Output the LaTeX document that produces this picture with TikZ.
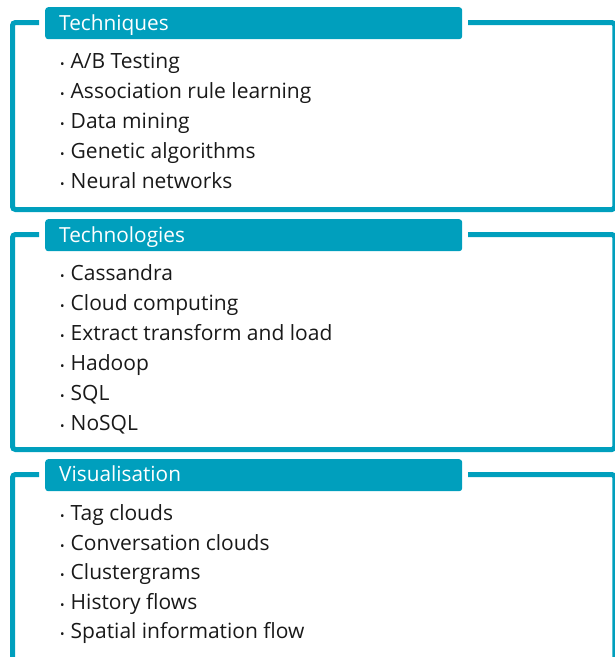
\documentclass[tikz,border=0pt]{standalone}
\usepackage{fontspec}
\setmainfont{Open Sans}
\definecolor{ecblue}{RGB}{0,159,189}
\newcommand\bul{\makebox[10.5pt][l]{\fontsize{12}{12}\selectfont •}}
\tikzset{
  frame/.style={draw=ecblue, line width=5pt, rounded corners=3pt},
  header/.style={fill=ecblue, rounded corners=3pt, minimum width=417pt, minimum height=32pt, anchor=north west, inner sep=0pt},
  htext/.style={text=white, font=\fontsize{20.8}{24}\selectfont, anchor=base west, inner sep=0pt},
  item/.style={font=\fontsize{21}{24}\selectfont, anchor=base west, inner sep=0pt, text=black!90},
}
\begin{document}
\begin{tikzpicture}[x=1pt,y=-1pt]
\useasboundingbox (0,0) rectangle (615,657);
% block 1
\draw[frame] (39,22.5) -- (12.5,22.5) -- (12.5,209.5) -- (614.8,209.5) -- (614.8,22.5) -- (468,22.5);
\node[header] (h1) at (45,7) {};
\node[htext] (t1) at (59,30) {Techniques};
\node[item] (a1) at (60,68) {\bul A/B Testing};
\node[item] (a2) at (60,98) {\bul Association rule learning};
\node[item] (a3) at (60,128) {\bul Data mining};
\node[item] (a4) at (60,158) {\bul Genetic algorithms};
\node[item] (a5) at (60,188) {\bul Neural networks};
% block 2
\draw[frame] (39,234.5) -- (12.5,234.5) -- (12.5,449.5) -- (614.8,449.5) -- (614.8,234.5) -- (468,234.5);
\node[header] (h2) at (45,219) {};
\node[htext] (t2) at (59,242) {Technologies};
\node[item] (b1) at (60,280) {\bul Cassandra};
\node[item] (b2) at (60,310) {\bul Cloud computing};
\node[item] (b3) at (60,340) {\bul Extract transform and load};
\node[item] (b4) at (60,370) {\bul Hadoop};
\node[item] (b5) at (60,400) {\bul SQL};
\node[item] (b6) at (60,430) {\bul NoSQL};
% block 3
\draw[frame] (39,474.5) -- (12.5,474.5) -- (12.5,670);
\draw[frame] (468,474.5) -- (614.8,474.5) -- (614.8,670);
\node[header] (h3) at (45,459) {};
\node[htext] (t3) at (59,481.5) {Visualisation};
\node[item] (c1) at (60,520) {\bul Tag clouds};
\node[item] (c2) at (60,550) {\bul Conversation clouds};
\node[item] (c3) at (60,579.5) {\bul Clustergrams};
\node[item] (c4) at (60,609) {\bul History flows};
\node[item] (c5) at (60,638.5) {\bul Spatial information flow};
\end{tikzpicture}
\end{document}
